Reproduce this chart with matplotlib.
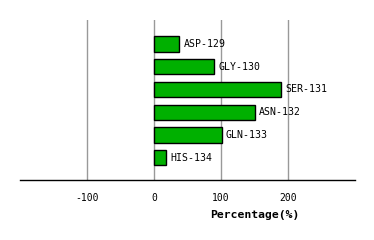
import matplotlib
matplotlib.use("Agg")
import matplotlib.pyplot as plt

residues = ["ASP-129", "GLY-130", "SER-131", "ASN-132", "GLN-133", "HIS-134"]
percentages = [38, 90, 190, 151, 101, 18]
xticks = [-100, 0, 100, 200]

plt.rcParams['font.family'] = ['DejaVu Sans Mono']

fig = plt.figure(figsize=(3.74, 2.40), dpi=100)
ax = fig.add_axes([20 / 374, 1 - 180.3 / 240, 335 / 374, 160.3 / 240])

ypos = list(range(len(residues)))
ax.barh(ypos, percentages, height=0.675, color="#00b000", edgecolor="black", linewidth=1, zorder=3)
for y, v, name in zip(ypos, percentages, residues):
    ax.text(v + 6, y, name, va="center", ha="left", fontsize=7.1, zorder=4)

for t in xticks:
    ax.axvline(t, color="#999999", linewidth=1, zorder=1)

ax.set_xlim(-200, 300)
ax.set_ylim(6, -1.06)
ax.set_xticks(xticks)
ax.set_xticklabels([str(t) for t in xticks], fontsize=7)
ax.tick_params(axis="x", length=0, pad=9)
ax.set_yticks([])
for side in ["top", "left", "right"]:
    ax.spines[side].set_visible(False)
ax.spines["bottom"].set_linewidth(1)

ax.text(0.70, -0.216, "Percentage(%)", transform=ax.transAxes, ha="center", va="center",
        fontsize=8.2, fontweight="bold")

fig.savefig("out.png", dpi=100)
